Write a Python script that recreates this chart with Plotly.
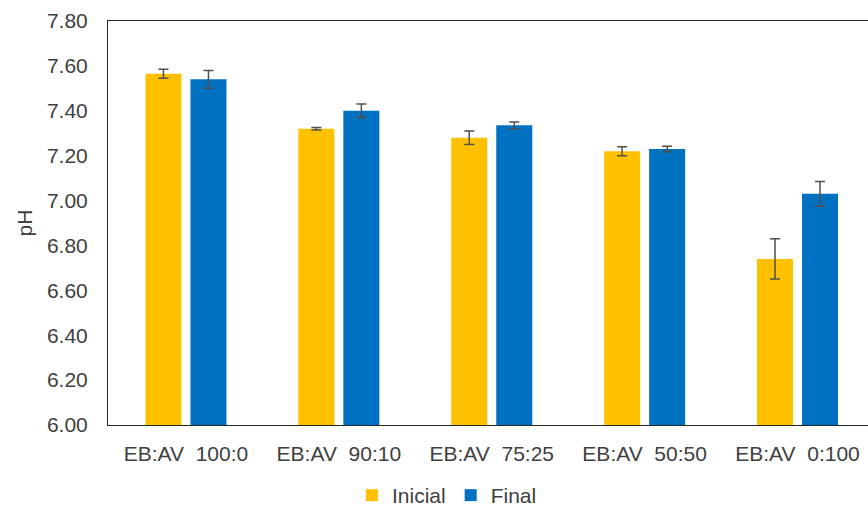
import plotly.graph_objects as go

# pH before and after, by EB:AV ratio
categories = ["EB:AV  100:0", "EB:AV  90:10", "EB:AV  75:25", "EB:AV  50:50", "EB:AV  0:100"]
inicial = [7.565, 7.32, 7.28, 7.22, 6.74]
inicial_err = [0.02, 0.006, 0.03, 0.02, 0.09]
final = [7.54, 7.40, 7.335, 7.23, 7.03]
final_err = [0.04, 0.03, 0.015, 0.012, 0.055]
y_ticks = [6.0, 6.2, 6.4, 6.6, 6.8, 7.0, 7.2, 7.4, 7.6, 7.8]

FONT = "Liberation Sans, Arial, sans-serif"
SIZE = 21
TEXT = "#404040"
ERR = "#505050"

fig = go.Figure()
fig.add_trace(go.Bar(
    name="Inicial", x=categories, y=inicial,
    marker=dict(color="#FFC000", line=dict(width=0)),
    error_y=dict(type="data", array=inicial_err, color=ERR, thickness=1.5, width=5),
))
fig.add_trace(go.Bar(
    name="Final", x=categories, y=final,
    marker=dict(color="#0070C0", line=dict(width=0)),
    error_y=dict(type="data", array=final_err, color=ERR, thickness=1.5, width=5),
))

fig.update_layout(
    width=868, height=516,
    margin=dict(l=108, r=0, t=21, b=89),
    paper_bgcolor="white", plot_bgcolor="white",
    barmode="group", bargap=0.411, bargroupgap=0.2,
    font=dict(family=FONT, size=SIZE, color=TEXT),
    showlegend=True,
    legend=dict(
        orientation="h", x=0.446, xanchor="center", y=-0.175, yanchor="middle",
        font=dict(family=FONT, size=SIZE, color=TEXT),
        itemwidth=30, itemsizing="constant", tracegroupgap=0,
    ),
)
fig.update_xaxes(
    range=[-0.51, 4.461],
    showline=True, linecolor="#262626", linewidth=1, mirror=True,
    ticks="", showgrid=False, ticklabelstandoff=10,
    tickfont=dict(family=FONT, size=SIZE, color=TEXT),
)
fig.update_yaxes(
    range=[6.0, 7.8], tickvals=y_ticks, tickformat=".2f",
    showline=True, linecolor="#262626", linewidth=1, mirror=False,
    ticks="", showgrid=False, zeroline=False, ticklabelstandoff=15,
    tickfont=dict(family=FONT, size=SIZE, color=TEXT),
    title=dict(text="pH", font=dict(family=FONT, size=SIZE, color=TEXT), standoff=8),
)

fig.write_html("out.html")
